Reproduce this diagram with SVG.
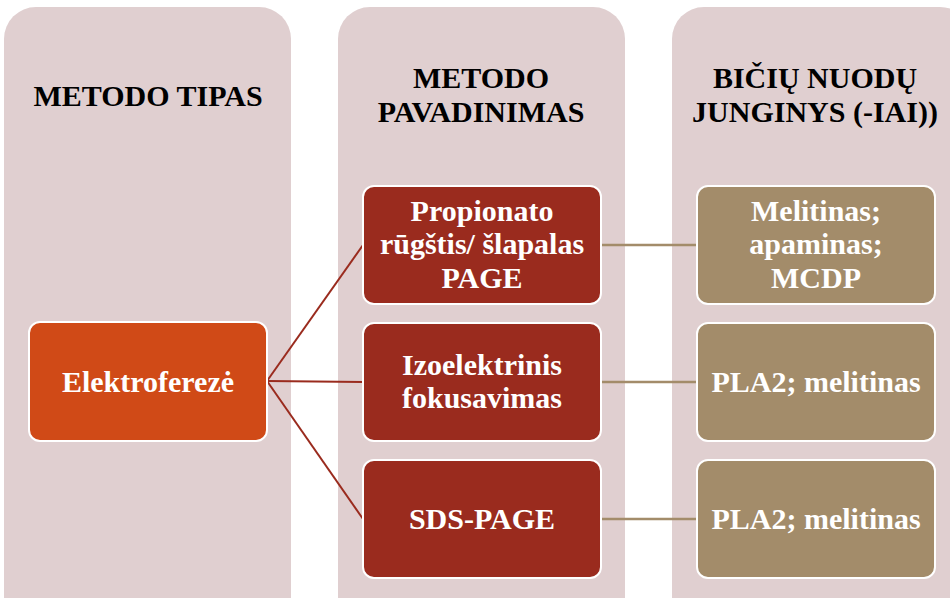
<svg xmlns="http://www.w3.org/2000/svg" width="950" height="598" viewBox="0 0 950 598">
<style>
.col{fill:#E0CFD0}
.hd{font-family:"Liberation Serif","DejaVu Serif",serif;font-weight:bold;font-size:30px;fill:#000;text-anchor:middle}
.t{font-family:"Liberation Serif","DejaVu Serif",serif;font-weight:bold;font-size:30px;fill:#fff;text-anchor:middle}
.n{stroke:#fff;stroke-width:2}
.o{fill:#D04A17}
.r{fill:#9A2B1E}
.b{fill:#A38C6A}
.c1{stroke:#9A2B1E;stroke-width:2;fill:none}
.c2{stroke:#A38C6A;stroke-width:2.5;fill:none}
</style>
<rect width="950" height="598" fill="#fff"/>
<g id="columns">
<rect class="col" x="4" y="7" width="287" height="630" rx="32"/>
<rect class="col" x="338" y="7" width="287" height="630" rx="32"/>
<rect class="col" x="672" y="7" width="300" height="630" rx="32"/>
<text class="hd" x="148" y="106">METODO TIPAS</text>
<text class="hd" x="481" y="88">METODO</text>
<text class="hd" x="481" y="122">PAVADINIMAS</text>
<text class="hd" x="815" y="88">BIČIŲ NUODŲ</text>
<text class="hd" x="815" y="122">JUNGINYS (-IAI))</text>
</g>
<g id="connectors">
<path class="c1" d="M267 381 L363 245"/>
<path class="c1" d="M267 381 L363 382"/>
<path class="c1" d="M267 381 L363 519"/>
<path class="c2" d="M601 245 L697 245"/>
<path class="c2" d="M601 382 L697 382"/>
<path class="c2" d="M601 519 L697 519"/>
</g>
<g id="n-elektroforeze">
<rect class="n o" x="29" y="322" width="238" height="119" rx="11"/>
<text class="t" x="148" y="392">Elektroferezė</text>
</g>
<g id="n-propionato">
<rect class="n r" x="363" y="186" width="238" height="118" rx="11"/>
<text class="t" x="482" y="221">Propionato</text>
<text class="t" x="482" y="254">rūgštis/ šlapalas</text>
<text class="t" x="482" y="288">PAGE</text>
</g>
<g id="n-izoelektrinis">
<rect class="n r" x="363" y="323" width="238" height="118" rx="11"/>
<text class="t" x="482" y="375">Izoelektrinis</text>
<text class="t" x="482" y="408">fokusavimas</text>
</g>
<g id="n-sds">
<rect class="n r" x="363" y="460" width="238" height="118" rx="11"/>
<text class="t" x="482" y="529">SDS-PAGE</text>
</g>
<g id="n-melitinas">
<rect class="n b" x="697" y="186" width="238" height="118" rx="11"/>
<text class="t" x="816" y="221">Melitinas;</text>
<text class="t" x="816" y="254">apaminas;</text>
<text class="t" x="816" y="288">MCDP</text>
</g>
<g id="n-pla2a">
<rect class="n b" x="697" y="323" width="238" height="118" rx="11"/>
<text class="t" x="816" y="392">PLA2; melitinas</text>
</g>
<g id="n-pla2b">
<rect class="n b" x="697" y="460" width="238" height="118" rx="11"/>
<text class="t" x="816" y="529">PLA2; melitinas</text>
</g>
</svg>
